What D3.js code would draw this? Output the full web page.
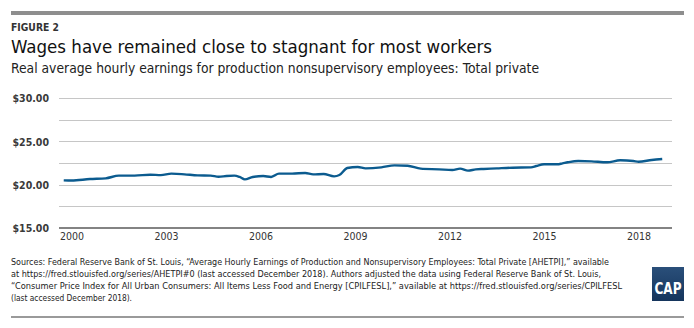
<!DOCTYPE html>
<html>
<head>
<meta charset="utf-8">
<script src="https://cdn.jsdelivr.net/npm/d3@7"></script>
<style>
  html, body { margin: 0; padding: 0; background: #fff; }
  svg { display: block; }
  text { font-family: "Liberation Sans Narrow", "DejaVu Sans Condensed", "Open Sans", sans-serif; }
</style>
</head>
<body>
<svg id="chart" width="694" height="328"></svg>
<script>
// Real average hourly earnings, production & nonsupervisory employees (total private)
const months = [
  "1999-10","2000-01","2000-08","2001-02","2001-07","2002-01","2002-07","2002-11",
  "2003-03","2003-08","2004-01","2004-06","2004-09","2004-12","2005-03","2005-05",
  "2005-07","2005-10","2006-02","2006-05","2006-08","2007-01","2007-06","2007-09",
  "2008-01","2008-05","2008-07","2008-10","2009-02","2009-05","2009-11","2010-04",
  "2010-09","2011-02","2011-09","2012-02","2012-05","2012-08","2012-11","2013-02",
  "2013-07","2014-01","2014-08","2014-10","2015-01","2015-06","2015-08","2015-10",
  "2016-02","2016-07","2017-01","2017-06","2017-11","2018-01","2018-06","2018-10"
];
const wages = [
  20.50,20.48,20.65,20.73,21.04,21.04,21.15,21.10,
  21.27,21.19,21.07,21.04,20.92,21.00,21.04,20.89,
  20.61,20.89,21.00,20.89,21.27,21.27,21.35,21.19,
  21.23,20.96,21.11,21.92,22.04,21.88,22.00,22.23,
  22.19,21.85,21.77,21.69,21.85,21.62,21.77,21.81,
  21.88,21.96,22.00,22.15,22.35,22.35,22.46,22.58,
  22.73,22.69,22.58,22.81,22.73,22.65,22.85,22.96
];
const yearTicks = [2000, 2003, 2006, 2009, 2012, 2015, 2018];
const gridValues = [15, 17.5, 20, 22.5, 25, 27.5, 30];
const yLabelValues = [15, 20, 25, 30];

const figureLabel = "FIGURE 2";
const title = "Wages have remained close to stagnant for most workers";
const subtitle = "Real average hourly earnings for production nonsupervisory employees: Total private";
const sourceLines = [
  "Sources: Federal Reserve Bank of St. Louis, \u201cAverage Hourly Earnings of Production and Nonsupervisory Employees: Total Private [AHETPI],\u201d available",
  "at https://fred.stlouisfed.org/series/AHETPI#0 (last accessed December 2018). Authors adjusted the data using Federal Reserve Bank of St. Louis,",
  "\u201cConsumer Price Index for All Urban Consumers: All Items Less Food and Energy [CPILFESL],\u201d available at https://fred.stlouisfed.org/series/CPILFESL",
  "(last accessed December 2018)."
];

const data = months.map((m, i) => {
  const [yr, mo] = m.split("-").map(Number);
  return { t: yr + (mo - 1) / 12, v: wages[i] };
});

const svg = d3.select("#chart");

const x = d3.scaleLinear().domain([1999.6, 2019.06]).range([59, 672]);
const y = d3.scaleLinear().domain([15, 30]).range([228, 98]);

// header rules
svg.append("rect").attr("x", 11).attr("y", 11).attr("width", 673).attr("height", 4).attr("fill", "#8e8e8e");

svg.append("text").attr("x", 11).attr("y", 31)
  .attr("font-size", 10.5).attr("font-weight", "bold").attr("fill", "#333")
  .attr("textLength", 48).attr("lengthAdjust", "spacingAndGlyphs")
  .text(figureLabel);

svg.append("text").attr("x", 11).attr("y", 53)
  .attr("font-size", 18.5).attr("fill", "#111")
  .attr("textLength", 481).attr("lengthAdjust", "spacingAndGlyphs")
  .text(title);

svg.append("text").attr("x", 11).attr("y", 73)
  .attr("font-size", 13.5).attr("fill", "#222")
  .attr("textLength", 528).attr("lengthAdjust", "spacingAndGlyphs")
  .text(subtitle);

// horizontal gridlines
svg.append("g").selectAll("line").data(gridValues.filter(v => v !== 15)).join("line")
  .attr("x1", x.range()[0]).attr("x2", x.range()[1])
  .attr("y1", d => Math.round(y(d)) + 0.5).attr("y2", d => Math.round(y(d)) + 0.5)
  .attr("stroke", "#c6c6c6").attr("stroke-width", 1);

// baseline
svg.append("line")
  .attr("x1", x.range()[0]).attr("x2", x.range()[1])
  .attr("y1", y(15)).attr("y2", y(15))
  .attr("stroke", "#5a5a5a").attr("stroke-width", 1.5);

// y labels
const yAxis = d3.axisLeft(y).tickValues(yLabelValues).tickSize(0).tickPadding(0)
  .tickFormat(d => "$" + d3.format(".2f")(d));
const gy = svg.append("g").attr("transform", "translate(49,0)").call(yAxis);
gy.select(".domain").remove();
gy.selectAll("text").attr("font-size", 10.5).attr("font-weight", "bold").attr("fill", "#3a3a3a")
  .attr("dy", "0.35em");

// x labels
const xAxis = d3.axisBottom(x).tickValues(yearTicks).tickSize(0).tickPadding(0)
  .tickFormat(d3.format("d"));
const gx = svg.append("g").attr("transform", "translate(0,233)").call(xAxis);
gx.select(".domain").remove();
gx.selectAll("text").attr("font-size", 10.5).attr("fill", "#333").attr("dy", "0.71em");

// earnings line
const line = d3.line().x(d => x(d.t)).y(d => y(d.v)).curve(d3.curveMonotoneX);
svg.append("path").datum(data)
  .attr("d", line)
  .attr("fill", "none")
  .attr("stroke", "#0b5b8f")
  .attr("stroke-width", 2.4)
  .attr("stroke-linejoin", "round");

// sources
svg.append("g").selectAll("text").data(sourceLines).join("text")
  .attr("x", 11).attr("y", (d, i) => 265 + i * 12)
  .attr("font-size", 9.5).attr("fill", "#222")
  .attr("textLength", (d, i) => [598, 590, 611, 121][i])
  .attr("lengthAdjust", "spacingAndGlyphs")
  .text(d => d);

// CAP badge
const badge = svg.append("g").attr("transform", "translate(652,267)");
const grad = svg.append("defs").append("linearGradient").attr("id", "capg")
  .attr("x1", 0).attr("y1", 0).attr("x2", 0).attr("y2", 1);
grad.append("stop").attr("offset", "0%").attr("stop-color", "#2a4f7a");
grad.append("stop").attr("offset", "100%").attr("stop-color", "#15355c");
badge.append("rect").attr("width", 32).attr("height", 34).attr("fill", "url(#capg)");
badge.append("text").attr("x", 16).attr("y", 27).attr("text-anchor", "middle")
  .attr("font-size", 16).attr("font-weight", "bold").attr("fill", "#fff")
  .attr("textLength", 27).attr("lengthAdjust", "spacingAndGlyphs")
  .text("CAP");

// footer rule
svg.append("rect").attr("x", 11).attr("y", 316).attr("width", 673).attr("height", 2).attr("fill", "#9a9a9a");
</script>
</body>
</html>
